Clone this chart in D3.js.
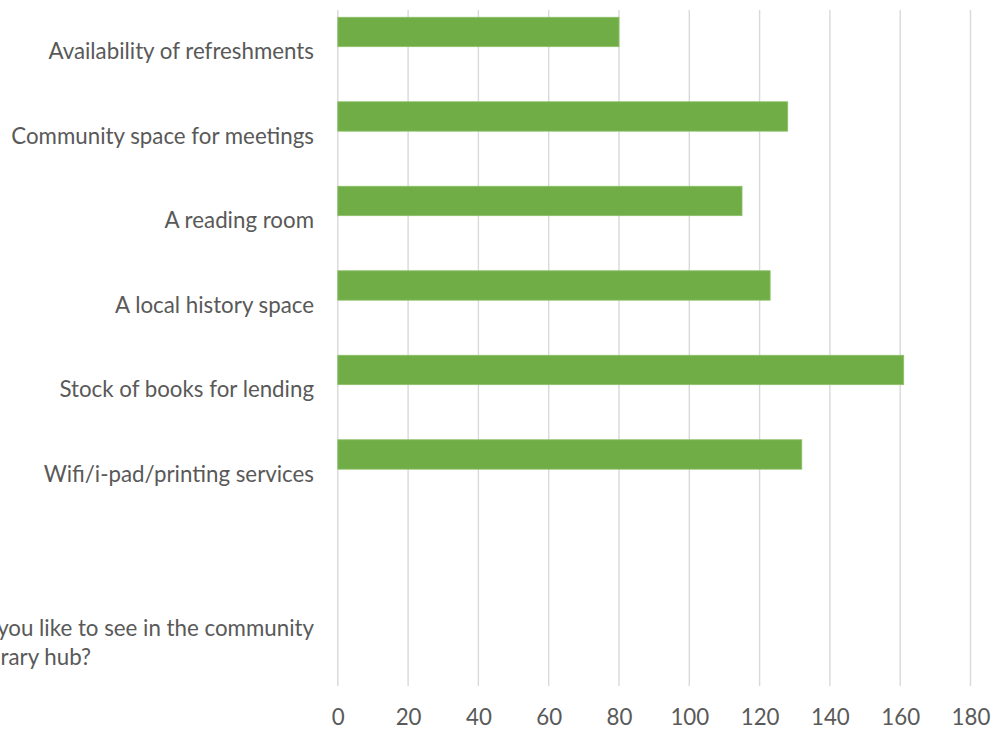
<!DOCTYPE html>
<html><head><meta charset="utf-8">
<script src="https://cdn.jsdelivr.net/npm/d3@7"></script>
<style>body{margin:0;background:#fff;} svg{display:block;}</style>
</head><body>
<svg id="chart" width="1000" height="731"></svg>
<script>
const categories = [
  "Availability of refreshments",
  "Community space for meetings",
  "A reading room",
  "A local history space",
  "Stock of books for lending",
  "Wifi/i-pad/printing services",
  "",
  "What would you like to see in the community library hub?"
];
const values = [80, 128, 115, 123, 161, 132, null, null];
const xTicks = [0, 20, 40, 60, 80, 100, 120, 140, 160, 180];
const questionLines = ["What would you like to see in the community", "library hub?"];

const svg = d3.select("#chart");
const FONT = "Lato, 'Open Sans', sans-serif";
const FS = 22.3;
const textColor = "#595959";

const x = d3.scaleLinear().domain([0, 180]).range([337.8, 970.5]);
const y = d3.scaleBand().domain(categories.map((c, i) => i)).range([10, 686]).paddingInner(0).paddingOuter(0);
const bw = y.bandwidth();

// gridlines
svg.append("g").selectAll("line").data(xTicks).join("line")
  .attr("x1", d => x(d)).attr("x2", d => x(d))
  .attr("y1", 10).attr("y2", 686)
  .attr("stroke", "#d9d9d9").attr("stroke-width", 1.4);

// bars
const data = categories.map((c, i) => ({c, i, v: values[i]})).filter(d => d.v != null);
svg.append("g").selectAll("rect").data(data).join("rect")
  .attr("x", x(0))
  .attr("y", d => y(d.i) + bw * 0.086)
  .attr("width", d => x(d.v) - x(0))
  .attr("height", bw * 0.348)
  .attr("fill", "#70ad47")
  .attr("stroke", "#8cc06a").attr("stroke-width", 0.8);

// x axis labels
const xAxis = d3.axisBottom(x).tickValues(xTicks).tickSize(0).tickPadding(0);
const gx = svg.append("g").attr("transform", "translate(0,708)").call(xAxis);
gx.select(".domain").remove();
gx.selectAll("text").attr("font-family", FONT).attr("font-size", FS).attr("fill", textColor).attr("dy", "0.74em");

// category labels
const labels = svg.append("g").attr("font-family", FONT).attr("font-size", FS).attr("fill", textColor);
categories.forEach((c, i) => {
  if (i === categories.length - 1 || c === "") return;
  labels.append("text").attr("x", 314).attr("y", y(i) + bw / 2 + 7)
    .attr("text-anchor", "end").text(c);
});
const qi = categories.length - 1;
labels.append("text").attr("x", 314).attr("y", y(qi) + bw / 2 - 8).attr("text-anchor", "end").text(questionLines[0]);
labels.append("text").attr("x", 91).attr("y", y(qi) + bw / 2 + 21).attr("text-anchor", "end").text(questionLines[1]);
</script>
</body></html>
